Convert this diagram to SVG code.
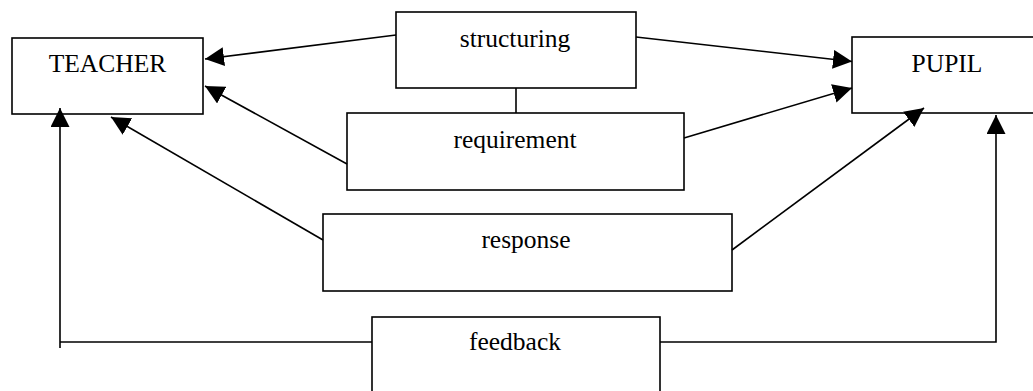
<svg xmlns="http://www.w3.org/2000/svg" width="1033" height="391" viewBox="0 0 1033 391">
<defs>
<style>
.box{fill:#fff;stroke:#000;stroke-width:1.6}
.lbl{font-family:"Liberation Serif","Times New Roman",serif;font-size:25.5px;fill:#000;text-anchor:middle}
.con{fill:none;stroke:#000;stroke-width:1.6}
.arr{marker-end:url(#ah)}
</style>
<marker id="ah" markerUnits="userSpaceOnUse" markerWidth="20" markerHeight="20" refX="19" refY="9.5" orient="auto">
<path d="M0,0 L19,9.5 L0,19 z" fill="#000"/>
</marker>
</defs>
<rect width="1033" height="391" fill="#fff"/>
<g id="teacher"><rect class="box" x="12" y="38" width="191" height="76"/><text class="lbl" x="107.5" y="72">TEACHER</text></g>
<g id="pupil"><rect class="box" x="852" y="37" width="190" height="76"/><text class="lbl" x="947" y="72">PUPIL</text></g>
<g id="structuring"><rect class="box" x="396" y="12" width="240" height="76"/><text class="lbl" x="515" y="47">structuring</text></g>
<g id="requirement"><rect class="box" x="347" y="113" width="337" height="77"/><text class="lbl" x="515" y="148">requirement</text></g>
<g id="response"><rect class="box" x="323" y="214" width="409" height="77"/><text class="lbl" x="526" y="248">response</text></g>
<g id="feedback"><rect class="box" x="372" y="317" width="288" height="77"/><text class="lbl" x="515" y="350">feedback</text></g>
<g id="connectors">
<path class="con" d="M516,88 V113"/>
<path class="con arr" d="M396,35 L205,59"/>
<path class="con arr" d="M636,37 L852,61.5"/>
<path class="con arr" d="M347,164 L205,86"/>
<path class="con arr" d="M684,138 L852,88"/>
<path class="con arr" d="M323,240 L111,117"/>
<path class="con arr" d="M732,250 L924,108"/>
<path class="con arr" d="M372,342 H60 M60,348 V108"/>
<path class="con arr" d="M660,342 H996 V115"/>
</g>
</svg>
